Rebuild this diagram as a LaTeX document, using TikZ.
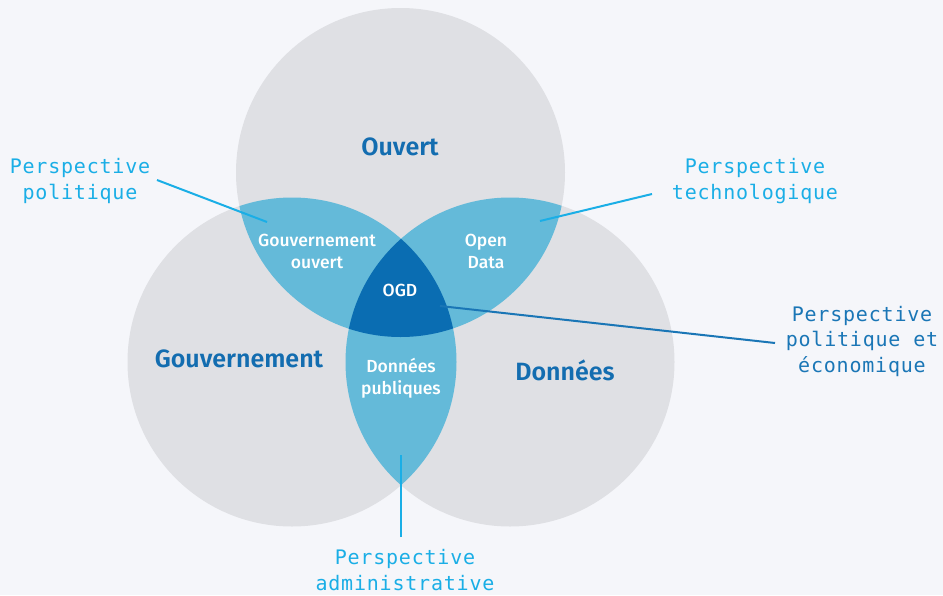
\documentclass[tikz,border=0pt]{standalone}
\usepackage{fontspec}
\setmainfont{Fira Sans}
\newfontfamily\monof[LetterSpace=4]{DejaVu Sans Mono}
\newfontfamily\medf{Fira Sans}[UprightFont=* Medium]
\newfontfamily\sbf{Fira Sans}[UprightFont=* SemiBold]
\definecolor{bg}{HTML}{F5F6FA}
\definecolor{circ}{HTML}{DFE0E4}
\definecolor{lens}{HTML}{64BAD9}
\definecolor{core}{HTML}{0A6DB2}
\definecolor{cyanl}{HTML}{1AAEE6}
\definecolor{darkl}{HTML}{1A76B6}
\definecolor{titl}{HTML}{136DB0}
\tikzset{
  x=1pt, y=-1pt,
  persp/.style={font=\monof\fontsize{20}{25.5}\selectfont, text=cyanl, align=center, inner sep=3pt},
  perspd/.style={persp, text=darkl},
  big/.style={font=\sbf\fontsize{25}{28}\selectfont, text=titl, inner sep=0pt},
  small/.style={font=\medf\fontsize{17.5}{22}\selectfont, text=white, align=center, inner sep=0pt},
  conn/.style={draw=cyanl, line width=2pt},
  connd/.style={draw=darkl, line width=2pt}
}
\begin{document}
\begin{tikzpicture}
\fill[bg] (0,0) rectangle (943,595);
\useasboundingbox (0,0) rectangle (943,595);
\def\rr{164.5}
\coordinate (T) at (400.5,172.5);
\coordinate (L) at (292,362);
\coordinate (R) at (510,362);
\fill[circ] (T) circle (\rr);
\fill[circ] (L) circle (\rr);
\fill[circ] (R) circle (\rr);
\begin{scope}
  \clip (T) circle (\rr);
  \fill[lens] (L) circle (\rr);
  \fill[lens] (R) circle (\rr);
\end{scope}
\begin{scope}
  \clip (L) circle (\rr);
  \fill[lens] (R) circle (\rr);
\end{scope}
\begin{scope}
  \clip (T) circle (\rr);
  \clip (L) circle (\rr);
  \fill[core] (R) circle (\rr);
\end{scope}

\node[big] (ouv) at (400,147) {Ouvert};
\node[big] (gouv) at (239,359) {Gouvernement};
\node[big] (don) at (565,370) {Données};

\node[small] (go) at (317,251) {Gouvernement\\ouvert};
\node[small] (od) at (486,251) {Open\\Data};
\node[small] (ogd) at (400,290) {OGD};
\node[small] (dp) at (401,378) {Données\\publiques};

\node[persp] (pp) at (80,181) {Perspective\\politique};
\node[persp] (pt) at (755,181) {Perspective\\technologique};
\node[perspd] (pe) at (862,341) {Perspective\\politique et\\économique};
\node[persp] (pa) at (405,570) {Perspective\\administrative};

\coordinate (e1) at (267,222);
\coordinate (e2) at (540,221);
\coordinate (e3) at (440,306);
\coordinate (e4) at (401,455);
\coordinate (s1) at (157,180);
\coordinate (s2) at (652,194);
\coordinate (s3) at (775,343);
\coordinate (s4) at (401,537);
\draw[conn] (s1) -- (e1);
\draw[conn] (s2) -- (e2);
\draw[connd] (s3) -- (e3);
\draw[conn] (s4) -- (e4);
\end{tikzpicture}
\end{document}
